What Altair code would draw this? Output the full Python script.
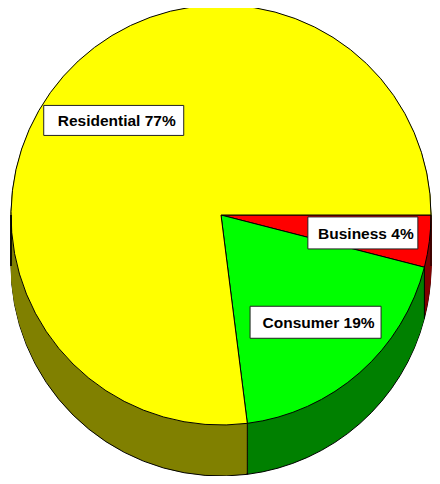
import math
import altair as alt
import pandas as pd

# ---- data ----
categories = ["Business", "Consumer", "Residential"]
shares = [4, 19, 77]
labels = ["Business 4%", "Consumer 19%", "Residential 77%"]
slice_order = [0, 1, 2]

face_colors = ["#FF0000", "#00FF00", "#FFFF00"]
side_colors = ["#800000", "#008000", "#808000"]

df = pd.DataFrame({"category": categories, "share": shares,
                   "label": labels, "order": slice_order})

# ---- layout constants ----
W, H = 424, 468
CX, CY = 213, 207
R = 210
DEPTH = 51
LABEL_R = 143
START = math.pi / 2
FONT = "Liberation Sans, Arial, sans-serif"
box_dims = {"Residential": (140, 30), "Business": (110, 32), "Consumer": (131, 32)}

color_scale = alt.Scale(domain=categories + [c + "_side" for c in categories],
                        range=face_colors + side_colors)
theta = alt.Theta("share:Q", stack=True,
                  scale=alt.Scale(range=[START, START + 2 * math.pi]))
order = alt.Order("order:Q")


def side_layer(yoff, outline):
    kw = dict(radius=R, strokeWidth=1)
    enc = dict(theta=theta, order=order,
               color=alt.Color("side:N", scale=color_scale, legend=None),
               x=alt.value(CX), y=alt.value(CY + yoff))
    if outline:
        kw["stroke"] = "black"
    else:
        enc["stroke"] = alt.Stroke("side:N", scale=color_scale, legend=None)
    return (alt.Chart(df)
            .transform_calculate(side="datum.category + '_side'")
            .mark_arc(**kw).encode(**enc))


layers = []
offsets = list(range(DEPTH, 0, -2))
for i, off in enumerate(offsets):
    layers.append(side_layer(off, outline=(i == 0)))

face = alt.Chart(df).mark_arc(radius=R, stroke="black", strokeWidth=1).encode(
    theta=theta, order=order,
    color=alt.Color("category:N", scale=color_scale, legend=None),
    x=alt.value(CX), y=alt.value(CY))

cum = (alt.Chart(df)
       .transform_window(cum="sum(share)", sort=[alt.SortField("order")], frame=[None, 0])
       .transform_joinaggregate(total="sum(share)"))

edges = (cum
         .transform_calculate(ang="datum.cum / datum.total * 2 * PI")
         .transform_filter("sin(datum.ang) > -0.001")
         .transform_calculate(bx=f"{CX} + {R} * cos(datum.ang)",
                              by=f"{CY} + {R} * sin(datum.ang)",
                              by2=f"{CY} + {R} * sin(datum.ang) + {DEPTH}")
         .mark_rule(color="black", strokeWidth=1)
         .encode(x=alt.X("bx:Q", scale=None, axis=None),
                 y=alt.Y("by:Q", scale=None, axis=None),
                 y2="by2:Q"))

left_edge = alt.Chart(df).mark_rule(color="black", strokeWidth=1).encode(
    x=alt.value(CX - R), y=alt.value(CY), y2=alt.value(CY + DEPTH))

label_pos = (cum
             .transform_calculate(ang="(datum.cum - datum.share / 2) / datum.total * 2 * PI")
             .transform_calculate(lx=f"{CX} + {LABEL_R} * cos(datum.ang)",
                                  ly=f"{CY} + {LABEL_R} * sin(datum.ang)"))

boxes = []
for cat in categories:
    bw, bh = box_dims[cat]
    h = bh / bw
    path = f"M-1,-{h:.4f} L1,-{h:.4f} L1,{h:.4f} L-1,{h:.4f} Z"
    boxes.append(label_pos.transform_filter(f"datum.category == '{cat}'")
                 .mark_point(shape=path, size=bw * bw, filled=True, fill="white",
                             stroke="#222222", strokeWidth=1, opacity=1)
                 .encode(x=alt.X("lx:Q", scale=None, axis=None),
                         y=alt.Y("ly:Q", scale=None, axis=None)))

texts = label_pos.mark_text(font=FONT, fontSize=15.5, fontWeight="bold", color="black",
                            align="center", baseline="middle", dx=3, dy=1).encode(
    x=alt.X("lx:Q", scale=None, axis=None),
    y=alt.Y("ly:Q", scale=None, axis=None),
    text="label:N")

chart = (alt.layer(*layers, face, edges, left_edge, *boxes, texts)
         .properties(width=W, height=H, padding=0, autosize="none")
         .configure_view(stroke=None))

chart.save("out.html", embed_options={"renderer": "svg", "actions": False})
